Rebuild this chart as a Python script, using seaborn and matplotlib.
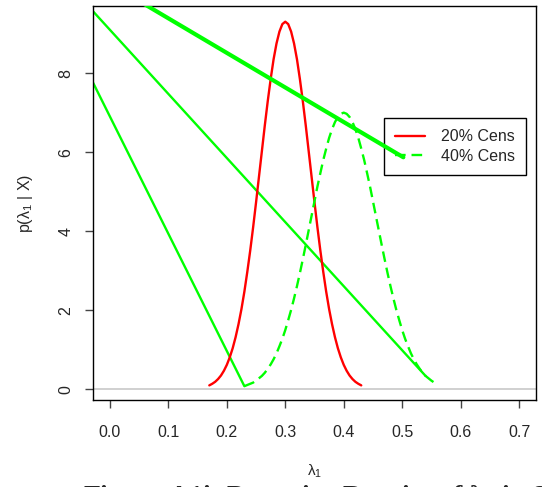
import numpy as np
import pandas as pd
import matplotlib
matplotlib.use("Agg")
import matplotlib.pyplot as plt
from matplotlib.lines import Line2D
import seaborn as sns

# ---- data ----
lam_red = [0.170, 0.175, 0.180, 0.185, 0.190, 0.195, 0.200, 0.205, 0.210, 0.215, 0.220,
           0.225, 0.230, 0.235, 0.240, 0.245, 0.250, 0.255, 0.260, 0.265, 0.270, 0.275,
           0.280, 0.285, 0.290, 0.295, 0.300, 0.305, 0.310, 0.315, 0.320, 0.325, 0.330,
           0.335, 0.340, 0.345, 0.350, 0.355, 0.360, 0.365, 0.370, 0.375, 0.380, 0.385,
           0.390, 0.395, 0.400, 0.405, 0.410, 0.415, 0.420, 0.425, 0.430]
dens_red = [0.10, 0.14, 0.19, 0.26, 0.35, 0.47, 0.62, 0.81, 1.04, 1.32, 1.65,
            2.03, 2.47, 2.97, 3.51, 4.10, 4.73, 5.38, 6.03, 6.68, 7.29, 7.85,
            8.35, 8.75, 9.05, 9.24, 9.30, 9.24, 9.05, 8.75, 8.35, 7.85, 7.29,
            6.68, 6.03, 5.38, 4.73, 4.10, 3.51, 2.97, 2.47, 2.03, 1.65, 1.32,
            1.04, 0.81, 0.62, 0.47, 0.35, 0.26, 0.19, 0.14, 0.10]

lam_green = [0.230, 0.235, 0.240, 0.245, 0.250, 0.255, 0.260, 0.265, 0.270, 0.275, 0.280,
             0.285, 0.290, 0.295, 0.300, 0.305, 0.310, 0.315, 0.320, 0.325, 0.330, 0.335,
             0.340, 0.345, 0.350, 0.355, 0.360, 0.365, 0.370, 0.375, 0.380, 0.385, 0.390,
             0.395, 0.400, 0.405, 0.410, 0.415, 0.420, 0.425, 0.430, 0.435, 0.440, 0.445,
             0.450, 0.455, 0.460, 0.465, 0.470, 0.475, 0.480, 0.485, 0.490, 0.495, 0.500,
             0.505, 0.510, 0.515, 0.520, 0.525, 0.530, 0.535, 0.540, 0.545, 0.550, 0.555,
             0.560]
dens_green = [0.08, 0.11, 0.14, 0.17, 0.22, 0.28, 0.34, 0.42, 0.52, 0.63, 0.76,
              0.91, 1.09, 1.28, 1.50, 1.75, 2.01, 2.30, 2.61, 2.94, 3.29, 3.65,
              4.02, 4.39, 4.76, 5.13, 5.47, 5.80, 6.09, 6.36, 6.58, 6.76, 6.89,
              6.97, 7.00, 6.97, 6.89, 6.76, 6.58, 6.36, 6.09, 5.80, 5.47, 5.13,
              4.76, 4.39, 4.02, 3.65, 3.29, 2.94, 2.61, 2.30, 2.01, 1.75, 1.50,
              1.28, 1.09, 0.91, 0.76, 0.63, 0.52, 0.42, 0.34, 0.28, 0.22, 0.17,
              0.14]

# stray straight green segments visible in the reference
seg_a_x = [-0.03, 0.23]
seg_a_y = [7.79, 0.08]
seg_b_x = [-0.03, 0.54]
seg_b_y = [9.58, 0.34]
seg_c_x = [0.04, 0.502]
seg_c_y = [9.91, 5.87]

legend_labels = ["20% Cens", "40% Cens"]
x_ticks = [0.0, 0.1, 0.2, 0.3, 0.4, 0.5, 0.6, 0.7]
y_ticks = [0, 2, 4, 6, 8]

# ---- style ----
sns.set_style("ticks")
plt.rcParams["font.family"] = ["Liberation Sans", "DejaVu Sans"]
plt.rcParams["mathtext.fontset"] = "custom"
plt.rcParams["mathtext.rm"] = "Liberation Sans"
plt.rcParams["mathtext.it"] = "Liberation Sans:italic"

RED = "#ff0000"
GREEN = "#00ff00"
DASH = (4.5, 2.5)

fig = plt.figure(figsize=(5.42, 4.87), dpi=100)
ax = fig.add_axes([93 / 542, 1 - 400 / 487, (536 - 93) / 542, (400 - 6.3) / 487])

ax.axhline(0, color="#c8c8c8", lw=1.2, zorder=1)

df_red = pd.DataFrame({"lam": lam_red, "dens": dens_red})
df_green = pd.DataFrame({"lam": lam_green, "dens": dens_green})

sns.lineplot(data=df_red, x="lam", y="dens", ax=ax, color=RED, lw=1.7, sort=False,
             estimator=None, zorder=3)
sns.lineplot(data=df_green, x="lam", y="dens", ax=ax, color=GREEN, lw=1.7, sort=False,
             estimator=None, zorder=3)
ax.lines[-1].set_dashes(DASH)

for sx, sy, w, z in [(seg_a_x, seg_a_y, 1.7, 2), (seg_b_x, seg_b_y, 1.7, 2),
                     (seg_c_x, seg_c_y, 3.0, 7)]:
    sns.lineplot(x=sx, y=sy, ax=ax, color=GREEN, lw=w, sort=False, estimator=None, zorder=z)

ax.set_xlim(-0.029, 0.729)
ax.set_ylim(-0.27, 9.69)
ax.set_xticks(x_ticks)
ax.set_xticklabels([f"{v:.1f}" for v in x_ticks])
ax.set_yticks(y_ticks)
ax.set_yticklabels([str(v) for v in y_ticks], rotation=90, va="center")
ax.tick_params(axis="x", length=6, width=1, color="#444444", pad=12, labelsize=11.5)
ax.tick_params(axis="y", length=6, width=1, color="#444444", pad=8, labelsize=11.5)

for sp in ax.spines.values():
    sp.set_visible(True)
    sp.set_color("black")
    sp.set_linewidth(1.0)

ax.set_xlabel("λ$_1$", fontsize=11, labelpad=16)
ax.set_ylabel("p(λ$_1$ | X)", fontsize=11.5, labelpad=17)

handles = [Line2D([], [], color=RED, lw=1.7),
           Line2D([], [], color=GREEN, lw=1.7, dashes=DASH)]
leg = ax.legend(handles, legend_labels, loc="upper right", bbox_to_anchor=(0.977, 0.716),
                borderaxespad=0, fontsize=11.5, frameon=True, fancybox=False,
                edgecolor="black", framealpha=1, borderpad=0.7, labelspacing=0.3,
                handlelength=1.9, handletextpad=0.95)
leg.get_frame().set_linewidth(1.0)
leg.set_zorder(6)

fig.text(83 / 542, 1 - 504 / 487, "Figure A1i: Posterior Density of λ$_1$ in Simulation",
         ha="left", va="baseline", fontsize=20, fontweight="bold", family="Liberation Serif")

fig.savefig("out.png", dpi=100)
